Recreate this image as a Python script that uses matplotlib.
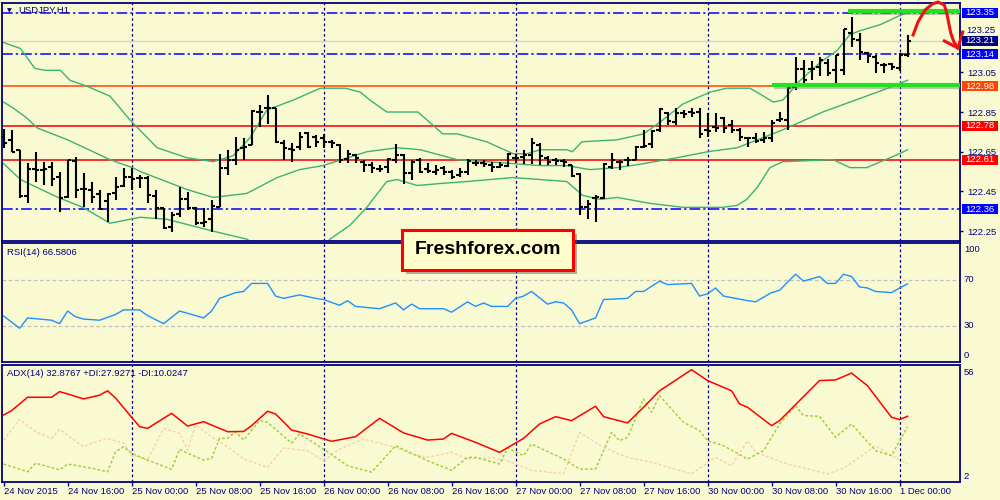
import matplotlib
matplotlib.use("Agg")
import matplotlib.pyplot as plt
import matplotlib.transforms as mtransforms
from matplotlib.patches import Rectangle
import numpy as np

plt.rcParams['font.family'] = ['Liberation Sans', 'DejaVu Sans']

BG = '#FAFAD2'
NAVY = '#000080'

# ---- USDJPY H1 bars, 24 Nov 08:00 .. 1 Dec 01:00 ----
opens = [122.725, 122.709, 122.658, 122.428, 122.561, 122.558, 122.574, 122.524, 122.423, 122.605,
         122.460, 122.457, 122.435, 122.403, 122.440, 122.477, 122.521, 122.519, 122.516, 122.427,
         122.368, 122.272, 122.334, 122.410, 122.365, 122.292, 122.309, 122.370, 122.566, 122.608,
         122.670, 122.683, 122.851, 122.868, 122.868, 122.692, 122.662, 122.675, 122.742, 122.722,
         122.717, 122.700, 122.683, 122.611, 122.633, 122.599, 122.583, 122.561, 122.574, 122.608,
         122.636, 122.544, 122.608, 122.561, 122.549, 122.566, 122.549, 122.532, 122.549, 122.594,
         122.594, 122.583, 122.574, 122.578, 122.616, 122.625, 122.633, 122.683, 122.616, 122.608,
         122.605, 122.583, 122.538, 122.373, 122.415, 122.415, 122.571, 122.600, 122.608, 122.608,
         122.675, 122.690, 122.759, 122.847, 122.801, 122.843, 122.852, 122.852, 122.759, 122.776,
         122.818, 122.784, 122.759, 122.717, 122.717, 122.709, 122.717, 122.810, 122.810, 122.974,
         123.065, 123.065, 123.078, 123.098, 123.062, 123.062, 123.246, 123.213, 123.145, 123.129,
         123.087, 123.092, 123.070, 123.137]
highs = [122.767, 122.759, 122.658, 122.591, 122.650, 122.599, 122.599, 122.549, 122.608, 122.625,
         122.541, 122.499, 122.457, 122.440, 122.524, 122.566, 122.566, 122.532, 122.527, 122.457,
         122.365, 122.348, 122.470, 122.448, 122.370, 122.365, 122.406, 122.641, 122.658, 122.725,
         122.717, 122.860, 122.885, 122.935, 122.868, 122.709, 122.692, 122.751, 122.747, 122.734,
         122.737, 122.709, 122.688, 122.658, 122.641, 122.608, 122.599, 122.583, 122.616, 122.687,
         122.641, 122.608, 122.616, 122.591, 122.583, 122.578, 122.558, 122.566, 122.611, 122.608,
         122.608, 122.599, 122.599, 122.645, 122.641, 122.658, 122.717, 122.692, 122.628, 122.617,
         122.612, 122.583, 122.541, 122.407, 122.432, 122.591, 122.642, 122.608, 122.622, 122.679,
         122.759, 122.759, 122.868, 122.852, 122.868, 122.860, 122.868, 122.868, 122.843, 122.843,
         122.826, 122.810, 122.768, 122.726, 122.746, 122.751, 122.810, 122.852, 122.977, 123.125,
         123.112, 123.107, 123.125, 123.115, 123.137, 123.266, 123.330, 123.246, 123.154, 123.137,
         123.098, 123.098, 123.145, 123.238]
lows = [122.667, 122.650, 122.415, 122.390, 122.499, 122.482, 122.477, 122.348, 122.415, 122.415,
        122.373, 122.390, 122.356, 122.297, 122.406, 122.474, 122.457, 122.465, 122.390, 122.309,
        122.259, 122.247, 122.323, 122.359, 122.281, 122.269, 122.247, 122.370, 122.532, 122.583,
        122.608, 122.683, 122.776, 122.789, 122.692, 122.608, 122.599, 122.658, 122.667, 122.675,
        122.667, 122.667, 122.594, 122.591, 122.594, 122.549, 122.541, 122.549, 122.541, 122.591,
        122.490, 122.507, 122.541, 122.544, 122.532, 122.532, 122.511, 122.524, 122.532, 122.578,
        122.574, 122.549, 122.566, 122.571, 122.591, 122.588, 122.588, 122.583, 122.583, 122.583,
        122.571, 122.524, 122.331, 122.309, 122.298, 122.410, 122.561, 122.558, 122.578, 122.608,
        122.670, 122.667, 122.751, 122.785, 122.785, 122.818, 122.826, 122.717, 122.726, 122.751,
        122.746, 122.742, 122.704, 122.675, 122.692, 122.695, 122.700, 122.801, 122.759, 122.961,
        122.978, 123.011, 123.031, 123.031, 122.986, 123.036, 123.179, 123.112, 123.095, 123.045,
        123.048, 123.062, 123.058, 123.129]
closes = [122.695, 122.650, 122.428, 122.561, 122.558, 122.561, 122.511, 122.415, 122.608, 122.457,
          122.460, 122.423, 122.361, 122.435, 122.470, 122.521, 122.512, 122.519, 122.432, 122.368,
          122.264, 122.331, 122.410, 122.365, 122.289, 122.297, 122.376, 122.566, 122.608, 122.658,
          122.675, 122.856, 122.851, 122.868, 122.700, 122.667, 122.658, 122.725, 122.675, 122.700,
          122.700, 122.692, 122.608, 122.641, 122.616, 122.583, 122.566, 122.561, 122.611, 122.633,
          122.544, 122.599, 122.549, 122.554, 122.558, 122.549, 122.524, 122.549, 122.605, 122.594,
          122.588, 122.574, 122.583, 122.641, 122.616, 122.633, 122.695, 122.628, 122.599, 122.605,
          122.600, 122.528, 122.373, 122.387, 122.424, 122.588, 122.608, 122.600, 122.608, 122.675,
          122.679, 122.756, 122.863, 122.806, 122.843, 122.840, 122.843, 122.739, 122.756, 122.768,
          122.768, 122.759, 122.726, 122.717, 122.706, 122.717, 122.793, 122.813, 122.969, 123.065,
          123.011, 123.065, 123.112, 123.045, 123.137, 123.266, 123.216, 123.154, 123.132, 123.095,
          123.087, 123.078, 123.137, 123.210]

# Bollinger bands (bar index, price)
bb_up_x = [0, 2.1, 3.9, 5.2, 7.1, 8.3, 10.4, 13.3, 15.8, 19.2, 22.9, 26.2, 28.7, 30.8, 32.9,
           36.2, 39.6, 42.7, 44.6, 45.8, 47.9, 51.8, 54.9, 56.7, 60.4, 63.7, 65.4, 67.1, 70.4, 71.1,
           72.3, 76.7, 80, 82.1, 84.9, 88.3, 90.4, 93.3, 95, 96.2, 97.4, 98.3, 99.6, 102.1, 104.2,
           105.8, 107.1, 109.6, 111.7, 113]
bb_up = [123.20, 123.17, 123.07, 123.06, 123.06, 123.01, 122.98, 122.93, 122.81, 122.67, 122.62,
         122.60, 122.63, 122.72, 122.86, 122.91, 122.97, 122.97, 122.95, 122.91, 122.85, 122.85,
         122.74, 122.74, 122.70, 122.64, 122.64, 122.66, 122.66, 122.65, 122.70, 122.71, 122.74,
         122.80, 122.89, 122.95, 122.97, 122.97, 122.93, 122.90, 122.91, 122.95, 123.01, 123.10,
         123.16, 123.24, 123.26, 123.29, 123.33, 123.35]
bb_mid_x = [0, 1.2, 2.9, 4.2, 8, 13.3, 16.1, 17.1, 22.9, 26.2, 30.4, 34.2, 37, 39.9, 45.4, 49.2,
            52.1, 56.7, 60.4, 63.7, 67.1, 70.4, 73.3, 76.7, 80, 84.2, 88, 91.7, 97.4, 102.4,
            105.8, 109.9, 113]
bb_mid = [122.90, 122.87, 122.82, 122.77, 122.71, 122.61, 122.57, 122.55, 122.46, 122.42, 122.44,
          122.52, 122.56, 122.58, 122.65, 122.67, 122.66, 122.61, 122.60, 122.59, 122.58, 122.58,
          122.56, 122.57, 122.59, 122.62, 122.65, 122.67, 122.76, 122.85, 122.90, 122.96, 123.01]
bb_low_x = [0, 2.1, 6.8, 9.9, 13.3, 17.1, 20.4, 23.3, 26.2, 30.4, 33.3, 37, 39.6, 40.8, 43.3,
            45.4, 47.9, 49.2, 51.7, 54.6, 57.9, 63.7, 70.4, 72.4, 74.6, 76.7, 80.8, 84.9, 89.9,
            91.7, 92.9, 94.2, 95.8, 97.4, 103.7, 105.8, 107.9, 112, 113]
bb_low = [122.59, 122.51, 122.42, 122.37, 122.29, 122.32, 122.31, 122.28, 122.25, 122.21, 122.13,
          122.11, 122.15, 122.21, 122.28, 122.37, 122.50, 122.51, 122.48, 122.49, 122.50, 122.52,
          122.50, 122.43, 122.41, 122.42, 122.39, 122.37, 122.37, 122.38, 122.41, 122.47, 122.57,
          122.60, 122.61, 122.57, 122.57, 122.64, 122.66]

# RSI(14)
rsi_x = [0, 2, 3, 6, 7, 8, 9, 10, 12, 14, 15, 17, 18, 20, 22, 25, 26, 27, 29, 30, 31, 33, 34, 35,
         37, 39, 40, 42, 43, 44, 47, 49, 50, 51, 52, 55, 56, 58, 59, 60, 61, 63, 64, 65, 66, 68,
         69, 70, 71, 72, 74, 75, 78, 79, 80, 82, 83, 86, 87, 88, 89, 90, 93, 94, 96, 97, 99, 100,
         102, 103, 104, 105, 106, 107, 108, 109, 111, 112, 113]
rsi = [38.7, 28, 37, 35, 32, 43, 38, 36, 35, 40, 44, 44, 39, 32, 43, 37, 43, 54, 59, 60, 67, 67,
       56, 54, 57, 54, 53, 48, 52, 47, 45, 50, 44, 49, 45, 45, 42, 51, 47, 50, 47, 47, 54, 56, 60,
       49, 51, 50, 44, 32, 37, 53, 54, 60, 60, 69, 66, 67, 56, 58, 63, 56, 52, 51, 59, 61, 75, 69,
       73, 67, 67, 75, 73, 64, 63, 60, 59, 63, 66.58]

# ADX(14), +DI, -DI
adx_x = [0, 1, 3, 6, 7, 8, 10, 12, 13, 14, 16, 17, 18, 21, 23, 25, 26, 28, 30, 31, 33, 34, 36,
         38, 41, 44, 47, 50, 53, 55, 56, 59, 62, 65, 67, 69, 71, 74, 75, 78, 80, 82, 86, 88, 91,
         92, 93, 96, 97, 102, 104, 106, 108, 111, 112, 113]
adx = [33.5, 35.6, 42, 42, 44.7, 43.6, 41.2, 43, 45.1, 41.6, 32.4, 27.9, 27.1, 34.3, 28.2, 30.3,
       28.7, 25.5, 25.6, 28.4, 35.3, 34, 26.3, 24.4, 20.9, 23.1, 31.9, 24.9, 21.5, 22, 24.7, 20.4,
       15.6, 22.3, 29.2, 32.7, 30.8, 37.7, 32.7, 29.7, 37.2, 45.1, 55.2, 50, 45.1, 38.8, 37.2,
       28.4, 30.8, 50, 50.3, 53.6, 47.5, 32.4, 31.3, 32.88]
pdi_x = [0, 3, 4, 7, 8, 11, 13, 14, 15, 16, 18, 21, 22, 23, 25, 26, 27, 28, 29, 30, 32, 33, 36,
         37, 40, 43, 46, 49, 53, 56, 58, 59, 62, 63, 65, 66, 70, 72, 74, 76, 77, 78, 80, 81, 82,
         85, 87, 88, 90, 93, 95, 97, 99, 100, 102, 104, 106, 109, 111, 113]
pdi = [10, 6.3, 10.4, 7.2, 10, 8, 6.3, 15.9, 18.3, 15.2, 11.9, 7.5, 17.1, 15.2, 11.9, 12.7, 22.3,
       22.3, 25.5, 21.5, 30.8, 30, 20, 24.4, 17.2, 9.2, 6.1, 18.8, 11.6, 7, 13.2, 13.2, 10, 17.7,
       14, 19.6, 12.4, 7.6, 7.6, 25.2, 21.2, 22.8, 41.2, 34.8, 42.7, 30, 26, 21.2, 18.8, 12.4,
       16.4, 29.2, 38, 33.2, 32.9, 22.8, 29.2, 16.4, 14, 27.93]
mdi_x = [0, 2, 4, 6, 7, 10, 11, 13, 15, 16, 18, 20, 22, 23, 24, 26, 28, 30, 33, 35, 38, 40, 42,
         45, 49, 51, 53, 56, 58, 61, 63, 66, 70, 72, 75, 78, 81, 86, 89, 91, 93, 94, 98, 103, 105,
         107, 109, 111, 113]
mdi = [21.5, 31.4, 25.5, 22.3, 26.6, 18.3, 20, 22.3, 20, 14.3, 11.9, 27.1, 24.7, 16.7, 28.7, 23.1,
       18.3, 12.5, 8.4, 17.7, 16.4, 11.6, 17.2, 22, 18, 14.8, 13.2, 15.6, 12.4, 13.2, 11.6, 7, 5.3,
       25.2, 18, 13.2, 10.8, 5.3, 13.2, 9.2, 21.2, 15.6, 10, 5.3, 8, 13.2, 18.8, 14, 10.02]

# time axis
date_ticks = [0, 8, 16, 24, 32, 40, 48, 56, 64, 72, 80, 88, 96, 104, 112]
date_labels = ['24 Nov 2015', '24 Nov 16:00', '25 Nov 00:00', '25 Nov 08:00', '25 Nov 16:00',
               '26 Nov 00:00', '26 Nov 08:00', '26 Nov 16:00', '27 Nov 00:00', '27 Nov 08:00',
               '27 Nov 16:00', '30 Nov 00:00', '30 Nov 08:00', '30 Nov 16:00', '1 Dec 00:00']
day_starts = [16, 40, 64, 88, 112]
price_ticks = [123.25, 123.05, 122.85, 122.65, 122.45, 122.25]

# drawn levels
blue_levels = [123.35, 123.14, 122.36]
red_levels = [122.78, 122.61]
orange_level = 122.98
bid = 123.21
green_top = (105.6, 123.36)
green_bottom = (96.0, 122.986)
arrow_x = [113.7, 114.3, 115.2, 116.1, 116.8, 117.6, 117.9, 118.2, 118.4, 118.8, 119.3]
arrow_y = [123.238, 123.303, 123.364, 123.394, 123.404, 123.389, 123.349, 123.288, 123.248,
           123.203, 123.172]

fig = plt.figure(figsize=(10, 5), dpi=100, facecolor=BG)
ax1 = fig.add_axes([0.002, 0.5186, 0.958, 0.4754])
ax2 = fig.add_axes([0.002, 0.2754, 0.958, 0.2380])
ax3 = fig.add_axes([0.002, 0.0366, 0.958, 0.2334])

for ax in (ax1, ax2, ax3):
    ax.set_facecolor(BG)
    ax.set_xlim(-0.2, 119.56)
    for s in ax.spines.values():
        s.set_color(NAVY)
        s.set_linewidth(1.3)
    for d in day_starts:
        ax.axvline(d, color=NAVY, lw=0.9, ls=(0, (2.2, 2.0)), zorder=1)

# ---------- price panel ----------
ax1.set_ylim(122.202, 123.399)
x = np.arange(len(closes))
ax1.axhline(bid, color='#D3D3D3', lw=1, zorder=1)
for lv in blue_levels:
    ax1.axhline(lv, color='#0000FF', lw=1.1, ls=(0, (7, 2, 1.5, 2)), zorder=1)
for lv in red_levels:
    ax1.axhline(lv, color='#EE0000', lw=1.1, zorder=1)
ax1.axhline(orange_level, color='#FF4500', lw=1.1, zorder=1)

ax1.plot(bb_up_x, bb_up, color='#3CB371', lw=1, zorder=2)
ax1.plot(bb_mid_x, bb_mid, color='#3CB371', lw=1, zorder=2)
ax1.plot(bb_low_x, bb_low, color='#3CB371', lw=1, zorder=2)

ax1.vlines(x, lows, highs, color='black', lw=1.5, zorder=3)
ax1.hlines(opens, x - 0.42, x, color='black', lw=1.5, zorder=3)
ax1.hlines(closes, x, x + 0.42, color='black', lw=1.5, zorder=3)

for (gx, gy) in (green_top, green_bottom):
    ax1.plot([gx + 0.3, 119.56], [gy - 0.012, gy - 0.012], color='#888888', lw=3, alpha=0.5,
             solid_capstyle='butt', zorder=4)
    ax1.plot([gx, 119.56], [gy, gy], color='#22E022', lw=3, solid_capstyle='butt', zorder=4)

ax1.plot(arrow_x, arrow_y, color='#EE1111', lw=2.2, clip_on=False, zorder=6)
ax1.plot([117.6, 119.3, 119.9], [123.208, 123.172, 123.253], color='#EE1111', lw=2.2,
         clip_on=False, zorder=6)

ax1.yaxis.tick_right()
ax1.set_yticks(price_ticks)
ax1.set_yticklabels(['' if t == 123.25 else '%.2f' % t for t in price_ticks])
ax1.set_xticks([])
ax1.tick_params(axis='y', direction='out', length=2.5, width=1, color=NAVY,
                labelcolor=NAVY, labelsize=6.8, pad=3)

trans = mtransforms.blended_transform_factory(ax1.transAxes, ax1.transData)
# top tick label sits a little higher, half hidden behind the bid box
ax1.text(1.0068, 123.262, '123.25', transform=trans, fontsize=6.8, color=NAVY,
         ha='left', va='center', clip_on=False)

ax1.text(0.0078, 0.966, '\u25bc', transform=ax1.transAxes, fontsize=4.5, color=NAVY,
         ha='center', va='center', family='DejaVu Sans')
ax1.text(0.0167, 0.971, 'USDJPY,H1', transform=ax1.transAxes, fontsize=6.8, color=NAVY,
         ha='left', va='center')

box_h = 10 / 198.6
for val, col in [(123.35, '#0000FF'), (123.21, '#000080'), (123.14, '#0000FF'),
                 (122.98, '#FF4500'), (122.78, '#FF0000'), (122.61, '#FF0000'),
                 (122.36, '#0000FF')]:
    ax1.add_patch(Rectangle((1.0021, val - box_h / 2), 0.0376, box_h, transform=trans,
                            facecolor=col, edgecolor='none', clip_on=False, zorder=7))
    ax1.text(1.0209, val, '%.2f' % val, transform=trans, color='white', fontsize=6.8,
             ha='center', va='center', clip_on=False, zorder=8)

# ---------- RSI panel ----------
ax2.set_ylim(-1.6, 101.9)
ax2.axhline(70, color='#C0C0C0', lw=0.9, ls=(0, (3, 2)), zorder=1)
ax2.axhline(30, color='#C0C0C0', lw=0.9, ls=(0, (3, 2)), zorder=1)
ax2.plot(rsi_x, rsi, color='#1E90FF', lw=1, zorder=3)
ax2.set_xticks([])
ax2.set_yticks([])
ax2.text(0.005, 0.921, 'RSI(14) 66.5806', transform=ax2.transAxes, fontsize=6.8, color=NAVY,
         ha='left', va='center')
t2 = mtransforms.blended_transform_factory(ax2.transAxes, ax2.transData)
for val, va in [(100, 'top'), (70, 'center'), (30, 'center'), (0, 'bottom')]:
    ax2.text(1.004, val, str(val), transform=t2, fontsize=6.8, color=NAVY, ha='left', va=va,
             clip_on=False)

# ---------- ADX panel ----------
ax3.set_ylim(1.54, 57.46)
ax3.plot(mdi_x, mdi, color='#F8CDB0', lw=1, ls=(0, (2, 1.5)), zorder=2)
ax3.plot(pdi_x, pdi, color='#9ACD32', lw=1, ls=(0, (2, 1.5)), zorder=2)
ax3.plot(adx_x, adx, color='#FF0000', lw=1.1, zorder=3)
ax3.set_yticks([])
ax3.set_xticks(date_ticks)
ax3.set_xticklabels(date_labels, ha='left')
ax3.tick_params(axis='x', direction='out', length=3, width=1, color=NAVY, labelcolor=NAVY,
                labelsize=6.8, pad=1)
ax3.text(0.005, 0.923, 'ADX(14) 32.8767 +DI:27.9271 -DI:10.0247', transform=ax3.transAxes,
         fontsize=6.8, color=NAVY, ha='left', va='center')
t3 = mtransforms.blended_transform_factory(ax3.transAxes, ax3.transData)
ax3.text(1.004, 56, '56', transform=t3, fontsize=6.8, color=NAVY, ha='left', va='top',
         clip_on=False)
ax3.text(1.004, 2, '2', transform=t3, fontsize=6.8, color=NAVY, ha='left', va='bottom',
         clip_on=False)

# ---------- logo ----------
fig.add_artist(Rectangle((0.406, 0.452), 0.171, 0.08, transform=fig.transFigure,
                         facecolor='#555555', edgecolor='none', alpha=0.45, zorder=10))
fig.add_artist(Rectangle((0.402, 0.46), 0.171, 0.08, transform=fig.transFigure,
                         facecolor='#FFFFCC', edgecolor='#FF0000', lw=2.2, zorder=11))
fig.text(0.4875, 0.50, 'Freshforex.com', fontsize=14, fontweight='bold', color='black',
         ha='center', va='center', zorder=12)

fig.savefig('out.png', dpi=100, facecolor=BG)
